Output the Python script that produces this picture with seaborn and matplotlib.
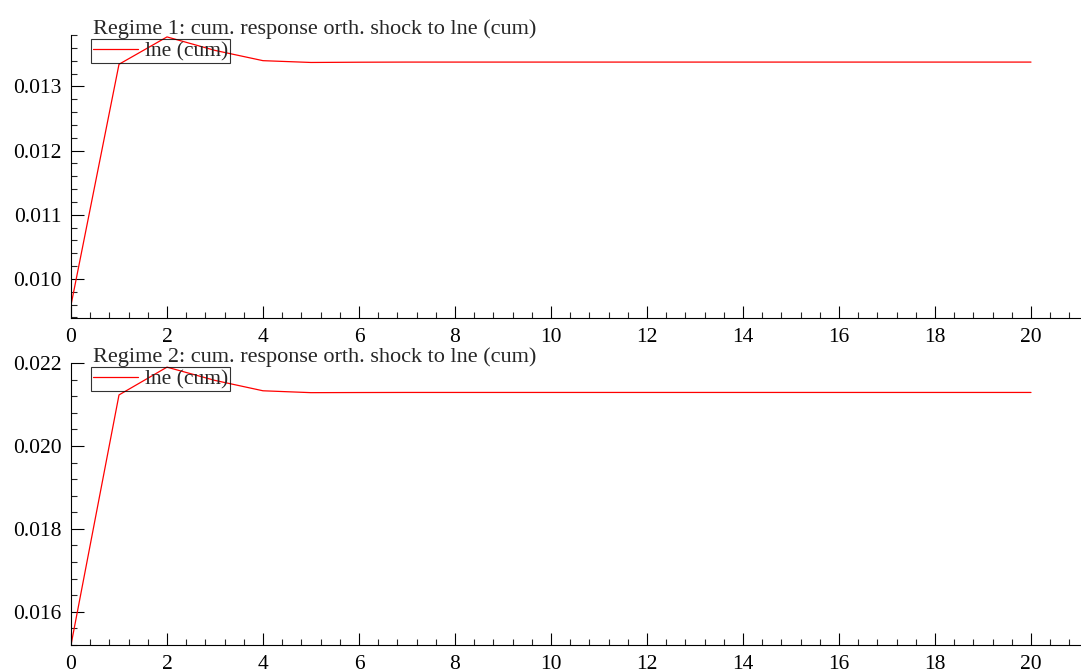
import numpy as np
import pandas as pd
import matplotlib
matplotlib.use("Agg")
import matplotlib.pyplot as plt
from matplotlib.ticker import MultipleLocator, FormatStrFormatter
import seaborn as sns

# Horizons and cumulative orthogonalised responses of lne per regime
horizon = list(range(21))
regime1 = [0.00959, 0.013344, 0.01377, 0.01356, 0.01340, 0.013372, 0.013376,
           0.013378, 0.013378, 0.013378, 0.013378, 0.013378, 0.013378, 0.013378,
           0.013378, 0.013378, 0.013378, 0.013378, 0.013378, 0.013378, 0.013378]
regime2 = [0.01520, 0.02123, 0.02190, 0.02158, 0.02133, 0.021285, 0.021288,
           0.02129, 0.02129, 0.02129, 0.02129, 0.02129, 0.02129, 0.02129,
           0.02129, 0.02129, 0.02129, 0.02129, 0.02129, 0.02129, 0.02129]
titles = ["Regime 1: cum. response orth. shock to lne (cum)",
          "Regime 2: cum. response orth. shock to lne (cum)"]
series_label = "lne (cum)"

sns.set_style("ticks")
plt.rcParams["font.family"] = ["Liberation Serif", "DejaVu Serif"]
plt.rcParams["font.size"] = 16

W, H = 1081, 670
fig = plt.figure(figsize=(W / 100, H / 100), dpi=100)

panels = [
    dict(vals=regime1, title=titles[0], rect=(71, 35, 1081, 318),
         ylim=(0.00939, 0.0138), major=0.001, minor=0.0002),
    dict(vals=regime2, title=titles[1], rect=(71, 363, 1081, 645),
         ylim=(0.0152, 0.0220), major=0.002, minor=0.0004),
]

for p in panels:
    x0, y0, x1, y1 = p["rect"]
    ax = fig.add_axes([x0 / W, 1 - y1 / H, (x1 - x0) / W, (y1 - y0) / H])
    df = pd.DataFrame({"h": horizon, "v": p["vals"]})
    sns.lineplot(data=df, x="h", y="v", ax=ax, color="red", linewidth=0.9,
                 label=series_label)
    ax.set_xlim(0, (x1 - x0) / 48.0)
    ax.set_ylim(*p["ylim"])
    ax.set_xlabel("")
    ax.set_ylabel("")
    ax.xaxis.set_major_locator(MultipleLocator(2))
    ax.xaxis.set_minor_locator(MultipleLocator(0.4))
    ax.yaxis.set_major_locator(MultipleLocator(p["major"]))
    ax.yaxis.set_minor_locator(MultipleLocator(p["minor"]))
    ax.yaxis.set_major_formatter(FormatStrFormatter("%.3f"))
    ax.tick_params(which="major", direction="in", length=9, width=0.8,
                   labelsize=15.5, pad=7, colors="black")
    ax.tick_params(which="minor", direction="in", length=4.5, width=0.8)
    for s in ("top", "right"):
        ax.spines[s].set_visible(False)
    for s in ("left", "bottom"):
        ax.spines[s].set_linewidth(0.8)
        ax.spines[s].set_color("black")
    ax.set_facecolor("none")
    ax.text(22 / (x1 - x0), 1.0 + 1 / (y1 - y0), p["title"],
            transform=ax.transAxes, ha="left", va="baseline", fontsize=16)
    leg = ax.legend(loc="upper left",
                    bbox_to_anchor=(20 / (x1 - x0), 1 - 4 / (y1 - y0)),
                    borderaxespad=0, frameon=True, fancybox=False,
                    fontsize=15.5, handlelength=2.1, handletextpad=0.3,
                    borderpad=0.1)
    fr = leg.get_frame()
    fr.set_facecolor("none")
    fr.set_edgecolor("black")
    fr.set_linewidth(0.8)

fig.savefig("out.png", dpi=100)
